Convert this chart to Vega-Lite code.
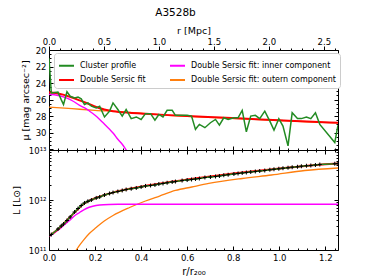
{
  "$schema": "https://vega.github.io/schema/vega-lite/v6.json",
  "padding": {"left": 10, "top": 8, "right": 5, "bottom": 5},
  "bounds": "flush",
  "title": {"text": "A3528b", "fontSize": 10.5, "fontWeight": "normal", "font": "DejaVu Sans", "anchor": "middle", "offset": 6},
  "config": {
    "font": "DejaVu Sans",
    "view": {"stroke": "black", "strokeWidth": 1},
    "axis": {"labelFontSize": 8.5, "titleFontSize": 9.5, "titleFontWeight": "normal", "labelColor": "black", "titleColor": "black", "domain": false, "grid": false, "tickColor": "black", "labelFlush": false, "labelOverlap": false}
  },
  "spacing": 0,
  "vconcat": [
    {
      "width": 289,
      "height": 100,
      "layer": [
        {
          "data": {"values": [
            {"x": 0, "mu": 26.9}, {"x": 0.1, "mu": 27.1}, {"x": 0.2, "mu": 27.3}, {"x": 0.3, "mu": 27.45}, {"x": 0.42, "mu": 27.7}, {"x": 0.5, "mu": 27.88}, {"x": 0.6, "mu": 28.03}, {"x": 0.72, "mu": 28.18}, {"x": 0.84, "mu": 28.33}, {"x": 1.0, "mu": 28.53}, {"x": 1.12, "mu": 28.68}, {"x": 1.255, "mu": 28.83}
          ]},
          "mark": {"type": "line", "strokeWidth": 1.3, "clip": true, "interpolate": "monotone"},
          "encoding": {
            "x": {"field": "x", "type": "quantitative", "scale": {"domain": [0, 1.255], "nice": false, "zero": false}, "axis": null},
            "y": {"field": "mu", "type": "quantitative", "scale": {"domain": [20, 32.1], "nice": false, "zero": false, "reverse": true}, "axis": null},
            "color": {"datum": "Double Sersic fit: outern component", "type": "nominal",
              "scale": {"domain": ["Cluster profile", "Double Sersic fit", "Double Sersic fit: inner component", "Double Sersic fit: outern component"], "range": ["#228b22", "#ff0000", "#ff00ff", "#ff7f0e"]},
              "legend": {"orient": "none", "legendX": 5, "legendY": 3, "columns": 2, "values": ["Cluster profile", "Double Sersic fit", "Double Sersic fit: inner component", "Double Sersic fit: outern component"], "symbolType": "stroke", "symbolStrokeWidth": 2, "symbolSize": 225, "labelFontSize": 8, "labelOffset": 5, "title": null, "fillColor": "white", "strokeColor": "#cccccc", "padding": 4, "cornerRadius": 3, "rowPadding": 1.5, "columnPadding": 20, "labelLimit": 300, "labelColor": "black"}}
          }
        },
        {
          "data": {"values": [
            {"x": 0, "mu": 25.35}, {"x": 0.04, "mu": 25.5}, {"x": 0.075, "mu": 25.8}, {"x": 0.105, "mu": 26.2}, {"x": 0.133, "mu": 26.7}, {"x": 0.155, "mu": 27.0}, {"x": 0.176, "mu": 27.4}, {"x": 0.2, "mu": 27.9}, {"x": 0.22, "mu": 28.4}, {"x": 0.24, "mu": 28.95}, {"x": 0.263, "mu": 29.6}, {"x": 0.28, "mu": 30.1}, {"x": 0.299, "mu": 30.8}, {"x": 0.318, "mu": 31.4}, {"x": 0.335, "mu": 32.1}, {"x": 0.342, "mu": 32.4}
          ]},
          "mark": {"type": "line", "strokeWidth": 1.4, "clip": true, "interpolate": "monotone"},
          "encoding": {
            "x": {"field": "x", "type": "quantitative", "axis": null},
            "y": {"field": "mu", "type": "quantitative", "axis": null},
            "color": {"datum": "Double Sersic fit: inner component", "type": "nominal"}
          }
        },
        {
          "data": {"values": [
            {"x": 0, "mu": 25.1}, {"x": 0.03, "mu": 25.2}, {"x": 0.061, "mu": 25.4}, {"x": 0.1, "mu": 25.75}, {"x": 0.133, "mu": 26.1}, {"x": 0.17, "mu": 26.5}, {"x": 0.205, "mu": 26.9}, {"x": 0.24, "mu": 27.2}, {"x": 0.278, "mu": 27.4}, {"x": 0.35, "mu": 27.6}, {"x": 0.42, "mu": 27.72}, {"x": 0.5, "mu": 27.85}, {"x": 0.6, "mu": 28.0}, {"x": 0.72, "mu": 28.15}, {"x": 0.84, "mu": 28.3}, {"x": 1.0, "mu": 28.5}, {"x": 1.12, "mu": 28.65}, {"x": 1.255, "mu": 28.8}
          ]},
          "mark": {"type": "line", "strokeWidth": 2, "clip": true, "interpolate": "monotone"},
          "encoding": {
            "x": {"field": "x", "type": "quantitative", "axis": null},
            "y": {"field": "mu", "type": "quantitative", "axis": null},
            "color": {"datum": "Double Sersic fit", "type": "nominal"}
          }
        },
        {
          "data": {"values": [
            {"x": 0, "mu": 21.0}, {"x": 0.01, "mu": 25.2}, {"x": 0.039, "mu": 25.1}, {"x": 0.053, "mu": 26.0}, {"x": 0.063, "mu": 26.6}, {"x": 0.078, "mu": 25.05}, {"x": 0.092, "mu": 25.6}, {"x": 0.111, "mu": 25.8}, {"x": 0.126, "mu": 25.7}, {"x": 0.14, "mu": 25.9}, {"x": 0.154, "mu": 26.6}, {"x": 0.169, "mu": 26.4}, {"x": 0.184, "mu": 26.8}, {"x": 0.205, "mu": 27.0}, {"x": 0.22, "mu": 26.8}, {"x": 0.241, "mu": 28.1}, {"x": 0.263, "mu": 27.4}, {"x": 0.278, "mu": 26.4}, {"x": 0.299, "mu": 27.2}, {"x": 0.318, "mu": 28.0}, {"x": 0.335, "mu": 27.2}, {"x": 0.357, "mu": 28.3}, {"x": 0.379, "mu": 28.1}, {"x": 0.4, "mu": 28.4}, {"x": 0.419, "mu": 27.7}, {"x": 0.441, "mu": 27.7}, {"x": 0.46, "mu": 28.5}, {"x": 0.477, "mu": 27.8}, {"x": 0.495, "mu": 28.1}, {"x": 0.513, "mu": 27.3}, {"x": 0.535, "mu": 27.3}, {"x": 0.549, "mu": 27.9}, {"x": 0.578, "mu": 27.9}, {"x": 0.6, "mu": 27.9}, {"x": 0.619, "mu": 28.0}, {"x": 0.636, "mu": 29.6}, {"x": 0.653, "mu": 29.0}, {"x": 0.677, "mu": 29.4}, {"x": 0.701, "mu": 28.8}, {"x": 0.723, "mu": 28.4}, {"x": 0.74, "mu": 29.1}, {"x": 0.759, "mu": 28.2}, {"x": 0.778, "mu": 28.4}, {"x": 0.803, "mu": 28.2}, {"x": 0.821, "mu": 28.2}, {"x": 0.839, "mu": 27.3}, {"x": 0.857, "mu": 29.9}, {"x": 0.876, "mu": 28.0}, {"x": 0.896, "mu": 27.9}, {"x": 0.915, "mu": 28.3}, {"x": 0.937, "mu": 27.4}, {"x": 0.959, "mu": 28.6}, {"x": 0.977, "mu": 29.7}, {"x": 0.998, "mu": 28.3}, {"x": 1.016, "mu": 29.2}, {"x": 1.038, "mu": 31.6}, {"x": 1.056, "mu": 27.6}, {"x": 1.079, "mu": 28.3}, {"x": 1.096, "mu": 28.3}, {"x": 1.118, "mu": 28.1}, {"x": 1.137, "mu": 28.3}, {"x": 1.157, "mu": 27.6}, {"x": 1.176, "mu": 29.0}, {"x": 1.241, "mu": 31.2}, {"x": 1.255, "mu": 29.1}
          ]},
          "mark": {"type": "line", "strokeWidth": 1.5, "clip": true},
          "encoding": {
            "x": {"field": "x", "type": "quantitative", "axis": null},
            "y": {"field": "mu", "type": "quantitative", "axis": null},
            "color": {"datum": "Cluster profile", "type": "nominal"}
          }
        },
        {
          "data": {"values": [{"x": 0, "mu": 25}]},
          "mark": {"type": "point", "opacity": 0},
          "encoding": {
            "x": {"field": "x", "type": "quantitative", "axis": {"orient": "top", "title": "r [Mpc]",
              "values": [0, 0.04773, 0.09547, 0.1432, 0.19093, 0.23866, 0.2864, 0.33413, 0.38186, 0.4296, 0.47733, 0.52506, 0.5728, 0.62053, 0.66826, 0.71599, 0.76372, 0.81146, 0.85919, 0.90692, 0.95465, 1.00239, 1.05012, 1.09785, 1.14558, 1.19332, 1.24105],
              "labelExpr": "abs(datum.value * 4.19 - round(datum.value * 4.19)) < 0.01 ? format(datum.value * 2.095, '.1f') : ''",
              "tickSize": {"condition": {"test": "abs(datum.value * 4.19 - round(datum.value * 4.19)) < 0.01", "value": 4}, "value": 2},
              "labelPadding": 0, "titlePadding": 2}},
            "y": {"field": "mu", "type": "quantitative", "axis": {"orient": "left", "title": "μ [mag arcsec⁻²]", "titleX": -19,
              "values": [20, 20.5, 21, 21.5, 22, 22.5, 23, 23.5, 24, 24.5, 25, 25.5, 26, 26.5, 27, 27.5, 28, 28.5, 29, 29.5, 30, 30.5, 31, 31.5, 32],
              "labelExpr": "datum.value % 2 == 0 && datum.value <= 30 ? format(datum.value, 'd') : ''",
              "tickSize": {"condition": {"test": "datum.value % 2 == 0", "value": -4}, "value": -2},
              "labelPadding": 7}}
          }
        },
        {
          "data": {"values": [{"x": 0, "mu": 25}]},
          "mark": {"type": "point", "opacity": 0},
          "encoding": {
            "x": {"field": "x", "type": "quantitative", "axis": {"orient": "bottom", "title": null, "labels": false,
              "values": [0, 0.04, 0.08, 0.12, 0.16, 0.2, 0.24, 0.28, 0.32, 0.36, 0.4, 0.44, 0.48, 0.52, 0.56, 0.6, 0.64, 0.68, 0.72, 0.76, 0.8, 0.84, 0.88, 0.92, 0.96, 1.0, 1.04, 1.08, 1.12, 1.16, 1.2, 1.24],
              "tickSize": {"condition": {"test": "abs(datum.value * 5 - round(datum.value * 5)) < 0.01", "value": -4}, "value": -2}}},
            "y": {"field": "mu", "type": "quantitative", "axis": {"orient": "right", "title": null, "labels": false,
              "values": [20, 20.5, 21, 21.5, 22, 22.5, 23, 23.5, 24, 24.5, 25, 25.5, 26, 26.5, 27, 27.5, 28, 28.5, 29, 29.5, 30, 30.5, 31, 31.5, 32],
              "tickSize": {"condition": {"test": "datum.value % 2 == 0", "value": -4}, "value": -2}}}
          }
        }
      ],
      "resolve": {"axis": {"x": "independent", "y": "independent"}}
    },
    {
      "width": 289,
      "height": 100,
      "layer": [
        {
          "data": {"values": [
            {"x": 0.118, "L": 1.0e11}, {"x": 0.13, "L": 1.2e11}, {"x": 0.15, "L": 1.58e11}, {"x": 0.175, "L": 2.14e11}, {"x": 0.205, "L": 2.82e11}, {"x": 0.24, "L": 3.8e11}, {"x": 0.278, "L": 4.9e11}, {"x": 0.35, "L": 7.08e11}, {"x": 0.419, "L": 9.55e11}, {"x": 0.48, "L": 1.2e12}, {"x": 0.549, "L": 1.55e12}, {"x": 0.62, "L": 1.82e12}, {"x": 0.694, "L": 2.14e12}, {"x": 0.839, "L": 2.69e12}, {"x": 0.966, "L": 3.16e12}, {"x": 1.111, "L": 3.89e12}, {"x": 1.255, "L": 4.37e12}
          ]},
          "mark": {"type": "line", "strokeWidth": 1.3, "clip": true, "interpolate": "monotone", "color": "#ff7f0e"},
          "encoding": {
            "x": {"field": "x", "type": "quantitative", "scale": {"domain": [0, 1.255], "nice": false, "zero": false}, "axis": null},
            "y": {"field": "L", "type": "quantitative", "scale": {"type": "log", "domain": [1e11, 1e13], "nice": false}, "axis": null}
          }
        },
        {
          "data": {"values": [
            {"x": 0, "L": 1.86e11}, {"x": 0.023, "L": 2.2e11}, {"x": 0.046, "L": 2.63e11}, {"x": 0.07, "L": 3.3e11}, {"x": 0.089, "L": 3.89e11}, {"x": 0.11, "L": 4.8e11}, {"x": 0.133, "L": 5.62e11}, {"x": 0.162, "L": 6.76e11}, {"x": 0.19, "L": 7.5e11}, {"x": 0.22, "L": 7.95e11}, {"x": 0.26, "L": 8.15e11}, {"x": 0.3, "L": 8.2e11}, {"x": 0.4, "L": 8.22e11}, {"x": 1.255, "L": 8.22e11}
          ]},
          "mark": {"type": "line", "strokeWidth": 1.4, "clip": true, "interpolate": "monotone", "color": "#ff00ff"},
          "encoding": {
            "x": {"field": "x", "type": "quantitative", "axis": null},
            "y": {"field": "L", "type": "quantitative", "axis": null}
          }
        },
        {
          "data": {"values": [
            {"x": 0, "L": 1.91e11}, {"x": 0.03, "L": 2.4e11}, {"x": 0.06, "L": 3.2e11}, {"x": 0.09, "L": 4.5e11}, {"x": 0.12, "L": 6.2e11}, {"x": 0.15, "L": 8.3e11}, {"x": 0.18, "L": 9.9e11}, {"x": 0.22, "L": 1.17e12}, {"x": 0.28, "L": 1.42e12}, {"x": 0.35, "L": 1.68e12}, {"x": 0.42, "L": 1.92e12}, {"x": 0.5, "L": 2.2e12}, {"x": 0.6, "L": 2.56e12}, {"x": 0.7, "L": 2.95e12}, {"x": 0.8, "L": 3.38e12}, {"x": 0.9, "L": 3.8e12}, {"x": 1.0, "L": 4.25e12}, {"x": 1.1, "L": 4.75e12}, {"x": 1.2, "L": 5.17e12}, {"x": 1.255, "L": 5.37e12}
          ]},
          "mark": {"type": "line", "strokeWidth": 2, "clip": true, "interpolate": "monotone", "color": "#ff0000"},
          "encoding": {
            "x": {"field": "x", "type": "quantitative", "axis": null},
            "y": {"field": "L", "type": "quantitative", "axis": null}
          }
        },
        {
          "data": {"values": [
            {"x": 0, "L": 1.95e11}, {"x": 0.01, "L": 2.04e11}, {"x": 0.039, "L": 2.63e11}, {"x": 0.053, "L": 3.02e11}, {"x": 0.063, "L": 3.31e11}, {"x": 0.078, "L": 3.89e11}, {"x": 0.092, "L": 4.57e11}, {"x": 0.111, "L": 5.75e11}, {"x": 0.126, "L": 6.76e11}, {"x": 0.14, "L": 7.76e11}, {"x": 0.154, "L": 8.71e11}, {"x": 0.169, "L": 9.44e11}, {"x": 0.184, "L": 1.0e12}, {"x": 0.205, "L": 1.1e12}, {"x": 0.22, "L": 1.15e12}, {"x": 0.241, "L": 1.26e12}, {"x": 0.263, "L": 1.35e12}, {"x": 0.278, "L": 1.41e12}, {"x": 0.299, "L": 1.48e12}, {"x": 0.318, "L": 1.55e12}, {"x": 0.335, "L": 1.62e12}, {"x": 0.357, "L": 1.68e12}, {"x": 0.379, "L": 1.74e12}, {"x": 0.4, "L": 1.82e12}, {"x": 0.419, "L": 1.91e12}, {"x": 0.441, "L": 1.95e12}, {"x": 0.46, "L": 2.0e12}, {"x": 0.477, "L": 2.09e12}, {"x": 0.495, "L": 2.14e12}, {"x": 0.513, "L": 2.21e12}, {"x": 0.535, "L": 2.29e12}, {"x": 0.549, "L": 2.34e12}, {"x": 0.578, "L": 2.45e12}, {"x": 0.6, "L": 2.51e12}, {"x": 0.619, "L": 2.57e12}, {"x": 0.636, "L": 2.63e12}, {"x": 0.653, "L": 2.69e12}, {"x": 0.677, "L": 2.82e12}, {"x": 0.701, "L": 2.88e12}, {"x": 0.723, "L": 2.95e12}, {"x": 0.74, "L": 3.02e12}, {"x": 0.759, "L": 3.13e12}, {"x": 0.778, "L": 3.2e12}, {"x": 0.803, "L": 3.31e12}, {"x": 0.821, "L": 3.39e12}, {"x": 0.839, "L": 3.47e12}, {"x": 0.857, "L": 3.55e12}, {"x": 0.876, "L": 3.63e12}, {"x": 0.896, "L": 3.72e12}, {"x": 0.915, "L": 3.8e12}, {"x": 0.937, "L": 3.89e12}, {"x": 0.959, "L": 4.03e12}, {"x": 0.977, "L": 4.12e12}, {"x": 0.998, "L": 4.22e12}, {"x": 1.016, "L": 4.32e12}, {"x": 1.038, "L": 4.42e12}, {"x": 1.056, "L": 4.52e12}, {"x": 1.079, "L": 4.62e12}, {"x": 1.096, "L": 4.73e12}, {"x": 1.118, "L": 4.84e12}, {"x": 1.137, "L": 4.9e12}, {"x": 1.157, "L": 5.01e12}, {"x": 1.176, "L": 5.13e12}, {"x": 1.241, "L": 5.31e12}, {"x": 1.255, "L": 5.37e12}
          ]},
          "layer": [
            {
              "mark": {"type": "line", "strokeWidth": 1.5, "clip": true, "color": "#228b22"},
              "encoding": {
                "x": {"field": "x", "type": "quantitative", "axis": null},
                "y": {"field": "L", "type": "quantitative", "axis": null}
              }
            },
            {
              "mark": {"type": "point", "shape": "M-1,0L1,0M0,-1L0,1", "filled": false, "stroke": "black", "strokeWidth": 1, "size": 16, "opacity": 1, "clip": true},
              "encoding": {
                "x": {"field": "x", "type": "quantitative", "axis": null},
                "y": {"field": "L", "type": "quantitative", "axis": null}
              }
            }
          ]
        },
        {
          "data": {"values": [{"x": 0, "L": 1e12}]},
          "mark": {"type": "point", "opacity": 0},
          "encoding": {
            "x": {"field": "x", "type": "quantitative", "axis": {"orient": "bottom", "title": "r/r₂₀₀",
              "values": [0, 0.04, 0.08, 0.12, 0.16, 0.2, 0.24, 0.28, 0.32, 0.36, 0.4, 0.44, 0.48, 0.52, 0.56, 0.6, 0.64, 0.68, 0.72, 0.76, 0.8, 0.84, 0.88, 0.92, 0.96, 1.0, 1.04, 1.08, 1.12, 1.16, 1.2, 1.24],
              "labelExpr": "abs(datum.value * 5 - round(datum.value * 5)) < 0.01 ? format(datum.value, '.1f') : ''",
              "tickSize": {"condition": {"test": "abs(datum.value * 5 - round(datum.value * 5)) < 0.01", "value": -4}, "value": -2},
              "labelPadding": 7, "titlePadding": 3, "titleFontSize": 10}},
            "y": {"field": "L", "type": "quantitative", "axis": {"orient": "left", "title": "L [L⊙]", "titleX": -28,
              "values": [1e11, 2e11, 3e11, 4e11, 5e11, 6e11, 7e11, 8e11, 9e11, 1e12, 2e12, 3e12, 4e12, 5e12, 6e12, 7e12, 8e12, 9e12, 1e13],
              "labelExpr": "datum.value == 1e11 ? '10¹¹' : datum.value == 1e12 ? '10¹²' : datum.value == 1e13 ? '10¹³' : ''",
              "tickSize": {"condition": {"test": "datum.value == 1e11 || datum.value == 1e12 || datum.value == 1e13", "value": -4}, "value": -2},
              "labelPadding": 7}}
          }
        },
        {
          "data": {"values": [{"x": 0, "L": 1e12}]},
          "mark": {"type": "point", "opacity": 0},
          "encoding": {
            "x": {"field": "x", "type": "quantitative", "axis": {"orient": "top", "title": null, "labels": false,
              "values": [0, 0.04, 0.08, 0.12, 0.16, 0.2, 0.24, 0.28, 0.32, 0.36, 0.4, 0.44, 0.48, 0.52, 0.56, 0.6, 0.64, 0.68, 0.72, 0.76, 0.8, 0.84, 0.88, 0.92, 0.96, 1.0, 1.04, 1.08, 1.12, 1.16, 1.2, 1.24],
              "tickSize": {"condition": {"test": "abs(datum.value * 5 - round(datum.value * 5)) < 0.01", "value": -4}, "value": -2}}},
            "y": {"field": "L", "type": "quantitative", "axis": {"orient": "right", "title": null, "labels": false,
              "values": [1e11, 2e11, 3e11, 4e11, 5e11, 6e11, 7e11, 8e11, 9e11, 1e12, 2e12, 3e12, 4e12, 5e12, 6e12, 7e12, 8e12, 9e12, 1e13],
              "tickSize": {"condition": {"test": "datum.value == 1e11 || datum.value == 1e12 || datum.value == 1e13", "value": -4}, "value": -2}}}
          }
        }
      ],
      "resolve": {"axis": {"x": "independent", "y": "independent"}}
    }
  ]
}
